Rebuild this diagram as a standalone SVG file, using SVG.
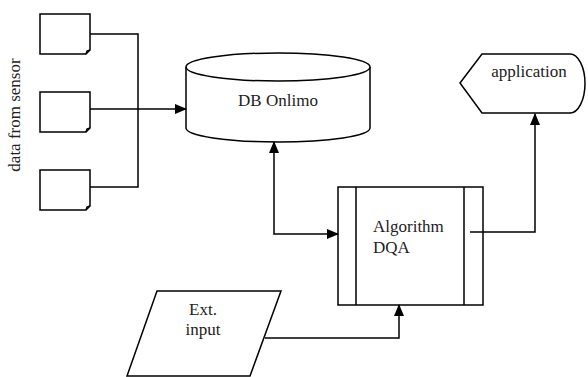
<svg xmlns="http://www.w3.org/2000/svg" width="588" height="377" viewBox="0 0 588 377">
<style>
.s{fill:#fff;stroke:#000;stroke-width:1.5}
.c{fill:none;stroke:#000;stroke-width:1.5}
.t{font-family:'Liberation Serif','Times New Roman','DejaVu Serif',serif;font-size:17px;fill:#222}
</style>
<defs>
<marker id="a" markerWidth="12" markerHeight="10" refX="11" refY="5" orient="auto-start-reverse" markerUnits="userSpaceOnUse">
<path d="M0,0 L12,5 L0,10 Z" fill="#000"/>
</marker>
</defs>
<rect width="588" height="377" fill="#fff"/>
<text class="t" font-family="Liberation Serif, serif" transform="translate(20,115) rotate(-90)" text-anchor="middle">data from sensor</text>
<g id="doc1"><path class="s" d="M40,14 H90 V50 L86,54 H40 Z"/><path class="c" d="M86,54 L87,51 L90,50"/></g>
<g id="doc2"><path class="s" d="M40,92 H90 V128 L86,132 H40 Z"/><path class="c" d="M86,132 L87,129 L90,128"/></g>
<g id="doc3"><path class="s" d="M40,170 H90 V206 L86,210 H40 Z"/><path class="c" d="M86,210 L87,207 L90,206"/></g>
<g id="db">
<path class="s" d="M186,67 V128 A92,14 0 0 0 370,128 V67"/>
<ellipse class="s" cx="278" cy="67" rx="92" ry="14"/>
<text class="t" font-family="Liberation Serif, serif" x="278" y="106" text-anchor="middle">DB Onlimo</text>
</g>
<g id="app">
<path class="s" d="M460,83 L482,54 H570 A15,29.5 0 0 1 570,113 H482 Z"/>
<text class="t" font-family="Liberation Serif, serif" x="529" y="77" text-anchor="middle">application</text>
</g>
<g id="algo">
<rect class="s" x="338" y="187" width="145" height="118"/>
<path class="c" d="M356,187 V305 M464,187 V305"/>
<text class="t" font-family="Liberation Serif, serif" x="373" y="232">Algorithm</text>
<text class="t" font-family="Liberation Serif, serif" x="373" y="253">DQA</text>
</g>
<g id="ext">
<path class="s" d="M157,291 H281 L250,376 H127 Z"/>
<text class="t" font-family="Liberation Serif, serif" x="203" y="315" text-anchor="middle">Ext.</text>
<text class="t" font-family="Liberation Serif, serif" x="203" y="335" text-anchor="middle">input</text>
</g>
<g id="connectors">
<path class="c" d="M90,34 H138 V187 H90"/>
<path class="c" d="M90,109 H186" marker-end="url(#a)"/>
<path class="c" d="M274,142 V234 H338" marker-start="url(#a)" marker-end="url(#a)"/>
<path class="c" d="M470,232 H535 V114" marker-end="url(#a)"/>
<path class="c" d="M265,338 H399 V305" marker-end="url(#a)"/>
</g>
</svg>
